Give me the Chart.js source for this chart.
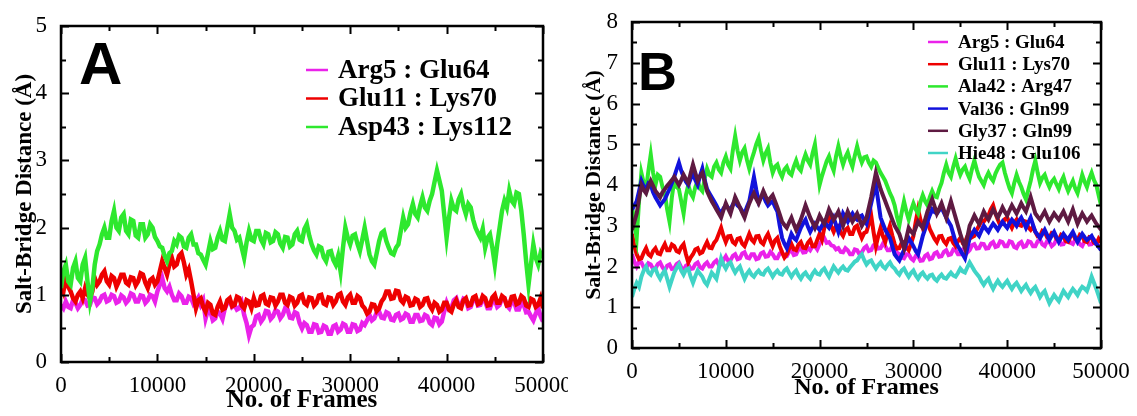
<!DOCTYPE html>
<html>
<head>
<meta charset="utf-8">
<script src="https://cdn.jsdelivr.net/npm/chart.js@4"></script>
<style>
  body { margin: 0; background: #fff; }
  #wrap { position: relative; width: 1137px; height: 416px; overflow: hidden; background: #fff; }
  #chartA { position: absolute; left: 0; top: 0; }
  #chartB { position: absolute; left: 568px; top: 0; }
</style>
</head>
<body>
<div id="wrap">
  <canvas id="chartA" width="568" height="416"></canvas>
  <canvas id="chartB" width="569" height="416"></canvas>
</div>
<script>
// frame numbers (every 250 frames, one row = 5000 frames)
const frames = [
  0, 250, 500, 750, 1000, 1250, 1500, 1750, 2000, 2250, 2500, 2750, 3000, 3250, 3500, 3750, 4000, 4250, 4500, 4750,
  5000, 5250, 5500, 5750, 6000, 6250, 6500, 6750, 7000, 7250, 7500, 7750, 8000, 8250, 8500, 8750, 9000, 9250, 9500, 9750,
  10000, 10250, 10500, 10750, 11000, 11250, 11500, 11750, 12000, 12250, 12500, 12750, 13000, 13250, 13500, 13750, 14000, 14250, 14500, 14750,
  15000, 15250, 15500, 15750, 16000, 16250, 16500, 16750, 17000, 17250, 17500, 17750, 18000, 18250, 18500, 18750, 19000, 19250, 19500, 19750,
  20000, 20250, 20500, 20750, 21000, 21250, 21500, 21750, 22000, 22250, 22500, 22750, 23000, 23250, 23500, 23750, 24000, 24250, 24500, 24750,
  25000, 25250, 25500, 25750, 26000, 26250, 26500, 26750, 27000, 27250, 27500, 27750, 28000, 28250, 28500, 28750, 29000, 29250, 29500, 29750,
  30000, 30250, 30500, 30750, 31000, 31250, 31500, 31750, 32000, 32250, 32500, 32750, 33000, 33250, 33500, 33750, 34000, 34250, 34500, 34750,
  35000, 35250, 35500, 35750, 36000, 36250, 36500, 36750, 37000, 37250, 37500, 37750, 38000, 38250, 38500, 38750, 39000, 39250, 39500, 39750,
  40000, 40250, 40500, 40750, 41000, 41250, 41500, 41750, 42000, 42250, 42500, 42750, 43000, 43250, 43500, 43750, 44000, 44250, 44500, 44750,
  45000, 45250, 45500, 45750, 46000, 46250, 46500, 46750, 47000, 47250, 47500, 47750, 48000, 48250, 48500, 48750, 49000, 49250, 49500, 49750,
  50000
];

// ---- panel A ----
const labelsA = ['Arg5 : Glu64', 'Glu11 : Lys70', 'Asp43 : Lys112'];

const arg5Glu64A = [
  0.85, 0.80, 0.90, 0.82, 0.80, 0.92, 0.88, 0.80, 0.85, 0.93, 0.92, 0.84, 0.85, 0.96, 0.95, 0.86, 0.90, 0.98, 1.00, 0.90,
  0.92, 1.00, 0.98, 0.88, 0.90, 0.99, 0.96, 0.88, 0.92, 1.02, 1.00, 0.90, 0.90, 0.99, 0.98, 0.88, 0.92, 1.00, 0.98, 0.90,
  1.05, 1.15, 1.25, 1.10, 1.05, 1.12, 1.00, 0.92, 0.92, 1.02, 0.98, 0.88, 0.88, 0.97, 0.95, 0.86, 0.90, 0.96, 0.85, 0.92,
  0.65, 0.78, 0.75, 0.62, 0.65, 0.75, 0.72, 0.64, 0.80, 0.88, 0.92, 0.82, 0.85, 0.78, 0.80, 0.88, 0.70, 0.58, 0.40, 0.52,
  0.55, 0.68, 0.70, 0.60, 0.65, 0.76, 0.75, 0.64, 0.68, 0.77, 0.75, 0.65, 0.70, 0.80, 0.78, 0.66, 0.65, 0.74, 0.72, 0.58,
  0.50, 0.58, 0.55, 0.45, 0.45, 0.56, 0.55, 0.44, 0.45, 0.54, 0.52, 0.42, 0.42, 0.53, 0.55, 0.45, 0.48, 0.57, 0.55, 0.45,
  0.45, 0.56, 0.55, 0.46, 0.48, 0.58, 0.55, 0.62, 0.70, 0.62, 0.65, 0.74, 0.75, 0.66, 0.65, 0.74, 0.72, 0.63, 0.62, 0.70,
  0.72, 0.63, 0.65, 0.72, 0.70, 0.60, 0.60, 0.70, 0.70, 0.61, 0.62, 0.70, 0.68, 0.58, 0.55, 0.66, 0.65, 0.56, 0.60, 0.75,
  0.88, 0.78, 0.80, 0.92, 0.95, 0.84, 0.85, 0.94, 0.92, 0.80, 0.82, 0.92, 0.95, 0.84, 0.85, 0.96, 0.90, 0.80, 0.80, 0.90,
  0.92, 0.82, 0.85, 0.95, 0.95, 0.84, 0.80, 0.90, 0.90, 0.78, 0.78, 0.88, 0.85, 0.74, 0.75, 0.68, 0.62, 0.72, 0.80, 0.68,
  0.60
];
const glu11Lys70A = [
  1.15, 1.05, 1.25, 1.12, 1.05, 0.95, 0.90, 1.00, 1.05, 0.95, 1.10, 1.00, 0.95, 1.05, 1.25, 1.15, 1.20, 1.30, 1.35, 1.20,
  1.15, 1.28, 1.25, 1.12, 1.20, 1.30, 1.30, 1.18, 1.15, 1.26, 1.25, 1.14, 1.20, 1.32, 1.30, 1.18, 1.10, 1.22, 1.25, 1.15,
  1.20, 1.35, 1.50, 1.40, 1.30, 1.45, 1.55, 1.42, 1.45, 1.58, 1.62, 1.48, 1.30, 1.38, 1.20, 1.00, 0.80, 0.92, 0.95, 0.82,
  0.75, 0.88, 0.85, 0.72, 0.70, 0.82, 0.90, 0.78, 0.80, 0.92, 0.95, 0.83, 0.85, 0.97, 0.95, 0.84, 0.80, 0.92, 0.90, 0.80,
  0.95, 0.84, 0.85, 0.98, 1.00, 0.87, 0.85, 0.96, 0.95, 0.84, 0.90, 1.00, 1.00, 0.88, 0.85, 0.97, 0.95, 0.84, 0.88, 0.98,
  1.00, 0.88, 0.85, 0.96, 0.95, 0.84, 0.88, 0.99, 1.00, 0.87, 0.85, 0.96, 0.95, 0.85, 0.90, 1.00, 1.02, 0.90, 0.85, 0.96,
  1.00, 0.88, 0.88, 0.98, 0.95, 0.84, 0.80, 0.72, 0.75, 0.86, 0.85, 0.76, 0.80, 0.90, 0.95, 1.05, 1.05, 0.94, 0.95, 1.06,
  1.05, 0.92, 0.88, 0.97, 0.95, 0.84, 0.85, 0.94, 0.92, 0.82, 0.85, 0.94, 0.95, 0.84, 0.78, 0.88, 0.85, 0.75, 0.78, 0.88,
  0.88, 0.78, 0.75, 0.86, 0.92, 0.82, 0.80, 0.92, 0.95, 0.84, 0.85, 0.96, 0.98, 0.86, 0.88, 0.98, 0.95, 0.84, 0.85, 0.96,
  1.00, 0.88, 0.88, 0.98, 0.95, 0.84, 0.85, 0.97, 0.98, 0.86, 0.88, 0.98, 0.95, 0.84, 0.82, 0.94, 0.92, 0.82, 0.85, 0.95,
  0.80
];
const asp43Lys112A = [
  1.10, 1.35, 1.45, 1.20, 1.15, 1.40, 1.50, 1.25, 1.20, 1.45, 1.55, 1.20, 0.90, 1.10, 1.45, 1.65, 1.75, 1.90, 2.00, 1.85,
  1.85, 2.10, 2.25, 2.00, 1.95, 2.15, 2.20, 1.95, 1.90, 2.12, 2.10, 1.88, 1.85, 2.05, 2.05, 1.85, 1.90, 2.05, 2.00, 1.86,
  1.80, 1.72, 1.70, 1.58, 1.50, 1.62, 1.65, 1.80, 1.75, 1.88, 1.85, 1.72, 1.70, 1.85, 1.90, 1.75, 1.75, 1.62, 1.60, 1.52,
  1.45, 1.62, 1.80, 1.68, 1.70, 1.85, 1.95, 1.82, 1.80, 2.00, 2.20, 2.00, 1.95, 1.82, 1.85, 1.70, 1.55, 1.78, 1.95, 1.82,
  1.80, 1.95, 1.95, 1.82, 1.75, 1.92, 1.90, 1.78, 1.80, 1.93, 1.90, 1.76, 1.70, 1.86, 1.85, 1.72, 1.75, 1.90, 1.95, 1.82,
  1.80, 1.98, 2.05, 1.88, 1.75, 1.66, 1.60, 1.72, 1.70, 1.56, 1.50, 1.64, 1.65, 1.52, 1.45, 1.58, 1.35, 1.70, 2.00, 1.85,
  1.75, 1.88, 1.90, 1.76, 1.65, 1.82, 2.00, 1.80, 1.60, 1.50, 1.45, 1.62, 1.80, 1.92, 1.95, 1.80, 1.70, 1.62, 1.60, 1.70,
  1.75, 1.95, 2.15, 2.00, 2.05, 2.22, 2.35, 2.20, 2.15, 2.32, 2.45, 2.30, 2.25, 2.40, 2.50, 2.68, 2.85, 2.70, 2.55, 2.20,
  1.85, 2.15, 2.40, 2.28, 2.25, 2.42, 2.50, 2.32, 2.20, 2.35, 2.30, 2.12, 2.00, 1.92, 1.85, 1.98, 1.70, 1.85, 1.90, 1.70,
  1.45, 1.75, 2.00, 2.25, 2.40, 2.30, 2.55, 2.40, 2.35, 2.52, 2.50, 2.25, 1.90, 1.50, 1.15, 1.45, 1.75, 1.55, 1.45, 1.62,
  1.55
];

// ---- panel B ----
const labelsB = ['Arg5 : Glu64', 'Glu11 : Lys70', 'Ala42 : Arg47', 'Val36 : Gln99', 'Gly37 : Gln99', 'Hie48 : Glu106'];

const arg5Glu64B = [
  2.30, 2.12, 2.00, 2.12, 2.10, 1.98, 1.95, 2.08, 2.05, 1.94, 1.95, 2.06, 2.10, 1.98, 1.90, 2.02, 2.05, 1.94, 1.95, 2.06,
  2.10, 1.98, 1.90, 2.02, 2.05, 1.94, 1.95, 2.06, 2.10, 1.98, 1.95, 2.05, 2.10, 2.00, 2.00, 2.10, 2.15, 2.04, 2.05, 2.16,
  2.25, 2.14, 2.15, 2.26, 2.30, 2.18, 2.20, 2.32, 2.35, 2.22, 2.20, 2.30, 2.30, 2.18, 2.20, 2.32, 2.35, 2.24, 2.25, 2.36,
  2.30, 2.20, 2.20, 2.32, 2.35, 2.24, 2.25, 2.36, 2.40, 2.28, 2.30, 2.42, 2.45, 2.34, 2.35, 2.46, 2.40, 2.50, 2.50, 2.42,
  2.55, 2.64, 2.70, 2.58, 2.60, 2.52, 2.50, 2.42, 2.45, 2.36, 2.35, 2.45, 2.40, 2.30, 2.30, 2.42, 2.40, 2.30, 2.35, 2.45,
  2.50, 2.38, 2.40, 2.52, 2.55, 2.44, 2.45, 2.56, 2.50, 2.40, 2.40, 2.50, 2.45, 2.34, 2.30, 2.22, 2.20, 2.30, 2.30, 2.20,
  2.15, 2.26, 2.25, 2.14, 2.15, 2.26, 2.30, 2.18, 2.20, 2.32, 2.35, 2.24, 2.25, 2.36, 2.40, 2.28, 2.30, 2.42, 2.40, 2.30,
  2.30, 2.42, 2.45, 2.34, 2.40, 2.52, 2.55, 2.44, 2.45, 2.56, 2.55, 2.44, 2.45, 2.56, 2.60, 2.48, 2.50, 2.62, 2.60, 2.50,
  2.50, 2.62, 2.60, 2.48, 2.45, 2.56, 2.60, 2.48, 2.50, 2.62, 2.60, 2.50, 2.50, 2.62, 2.65, 2.54, 2.50, 2.62, 2.60, 2.50,
  2.55, 2.66, 2.65, 2.54, 2.55, 2.66, 2.70, 2.58, 2.55, 2.66, 2.65, 2.54, 2.50, 2.62, 2.65, 2.54, 2.55, 2.66, 2.60, 2.50,
  2.50
];
const glu11Lys70B = [
  2.80, 2.50, 2.30, 2.18, 2.20, 2.34, 2.45, 2.30, 2.25, 2.38, 2.45, 2.32, 2.30, 2.44, 2.55, 2.40, 2.40, 2.54, 2.50, 2.38,
  2.35, 2.48, 2.55, 2.30, 2.10, 2.22, 2.30, 2.42, 2.45, 2.32, 2.35, 2.48, 2.60, 2.46, 2.45, 2.58, 2.65, 2.80, 2.95, 2.75,
  2.60, 2.74, 2.75, 2.60, 2.55, 2.68, 2.70, 2.56, 2.50, 2.65, 2.80, 2.66, 2.60, 2.74, 2.75, 2.60, 2.55, 2.70, 2.80, 2.64,
  2.50, 2.64, 2.70, 2.50, 2.35, 2.22, 2.30, 2.44, 2.55, 2.42, 2.40, 2.54, 2.60, 2.46, 2.45, 2.58, 2.65, 2.50, 2.50, 2.65,
  2.80, 2.66, 2.95, 3.10, 3.20, 2.98, 2.85, 3.00, 3.00, 2.84, 2.75, 2.90, 2.95, 2.80, 2.80, 2.96, 3.00, 2.84, 2.70, 2.82,
  2.85, 3.05, 3.25, 2.85, 2.50, 2.75, 2.95, 2.74, 2.60, 2.82, 3.00, 2.76, 2.55, 2.44, 2.45, 2.58, 2.60, 2.46, 2.40, 2.56,
  2.75, 3.10, 3.40, 3.15, 2.95, 3.08, 3.10, 2.92, 2.80, 2.68, 2.60, 2.74, 2.75, 2.62, 2.55, 2.68, 2.70, 2.58, 2.50, 2.62,
  2.70, 2.58, 2.60, 2.74, 2.85, 2.72, 2.75, 2.90, 3.00, 3.12, 3.10, 3.18, 3.25, 3.40, 3.50, 3.30, 3.15, 3.02, 3.05, 3.16,
  3.20, 3.06, 2.95, 3.08, 3.15, 3.02, 3.00, 3.12, 3.10, 2.96, 2.90, 2.98, 2.85, 2.74, 2.75, 2.88, 2.85, 2.72, 2.70, 2.82,
  2.80, 2.68, 2.65, 2.78, 2.75, 2.62, 2.60, 2.74, 2.80, 2.68, 2.65, 2.78, 2.75, 2.62, 2.60, 2.72, 2.70, 2.58, 2.55, 2.68,
  2.60
];
const ala42Arg47B = [
  3.50, 3.05, 2.70, 3.60, 4.30, 4.05, 3.90, 4.35, 4.75, 4.30, 4.00, 4.25, 4.20, 3.95, 3.80, 3.40, 3.10, 3.70, 4.10, 3.95,
  3.90, 3.60, 3.30, 3.75, 4.00, 3.80, 3.70, 3.95, 4.10, 3.92, 3.85, 4.15, 4.40, 4.25, 4.20, 4.45, 4.55, 4.38, 4.30, 4.55,
  4.70, 4.50, 4.40, 4.85, 5.20, 4.85, 4.60, 4.80, 4.90, 4.62, 4.40, 4.62, 4.80, 5.00, 5.15, 4.85, 4.60, 4.78, 4.90, 4.55,
  4.30, 4.45, 4.50, 4.32, 4.20, 4.38, 4.45, 4.30, 4.25, 4.45, 4.60, 4.42, 4.35, 4.58, 4.75, 4.60, 4.50, 4.78, 5.00, 4.50,
  4.00, 4.22, 4.40, 4.58, 4.70, 4.50, 4.35, 4.70, 4.95, 4.70, 4.50, 4.68, 4.80, 4.60, 4.45, 4.72, 4.95, 4.72, 4.55, 4.68,
  4.70, 4.55, 4.45, 4.60, 4.55, 4.42, 4.30, 4.20, 4.10, 3.95, 3.80, 3.68, 3.50, 3.22, 3.00, 3.32, 3.60, 3.35, 3.15, 3.38,
  3.55, 3.40, 3.30, 3.58, 3.75, 3.60, 3.50, 3.70, 3.85, 3.72, 3.70, 3.90, 4.05, 4.30, 4.50, 4.30, 4.20, 4.45, 4.65, 4.42,
  4.25, 4.38, 4.45, 4.28, 4.15, 4.40, 4.60, 4.38, 4.20, 4.10, 4.00, 4.18, 4.30, 4.18, 4.10, 4.28, 4.40, 4.50, 4.55, 4.30,
  4.10, 3.92, 3.80, 4.05, 4.25, 4.08, 3.95, 3.78, 3.65, 3.88, 4.10, 4.38, 4.60, 4.30, 4.05, 4.18, 4.25, 4.08, 3.95, 4.08,
  4.15, 4.02, 3.90, 4.08, 4.20, 4.00, 3.85, 3.98, 4.10, 3.92, 3.80, 4.02, 4.25, 4.08, 3.95, 4.15, 4.30, 4.12, 4.00, 3.75,
  3.50
];
const val36Gln99B = [
  3.40, 3.50, 3.60, 3.85, 4.10, 3.96, 3.90, 4.04, 4.00, 3.82, 3.70, 3.60, 3.50, 3.58, 3.65, 3.78, 3.90, 4.05, 4.20, 4.38,
  4.55, 4.35, 4.20, 4.08, 4.00, 4.15, 4.30, 4.12, 4.00, 4.22, 4.40, 4.12, 3.90, 3.80, 3.70, 3.60, 3.50, 3.38, 3.30, 3.42,
  3.50, 3.44, 3.40, 3.52, 3.60, 3.50, 3.45, 3.36, 3.30, 3.46, 3.60, 3.90, 4.20, 3.88, 3.60, 3.70, 3.75, 3.60, 3.50, 3.56,
  3.60, 3.46, 3.35, 3.00, 2.70, 2.56, 2.45, 2.62, 2.80, 2.70, 2.65, 2.80, 2.95, 3.06, 3.15, 2.98, 2.85, 2.96, 3.05, 2.96,
  2.90, 3.00, 3.10, 3.02, 2.95, 3.08, 3.20, 3.02, 2.85, 3.06, 3.30, 3.20, 3.10, 3.22, 3.30, 3.20, 3.15, 3.22, 3.25, 3.14,
  3.05, 3.30, 3.55, 3.80, 4.00, 3.60, 3.20, 3.05, 2.90, 2.80, 2.70, 2.50, 2.30, 2.22, 2.15, 2.28, 2.40, 2.56, 2.70, 2.60,
  2.50, 2.38, 2.30, 2.52, 2.75, 2.92, 3.10, 3.26, 3.40, 3.34, 3.30, 3.38, 3.45, 3.32, 3.20, 3.10, 3.00, 2.80, 2.60, 2.50,
  2.40, 2.30, 2.20, 2.45, 2.70, 2.80, 2.90, 2.82, 2.75, 2.88, 3.00, 2.92, 2.85, 2.96, 3.05, 2.98, 2.90, 3.00, 3.10, 3.02,
  2.95, 3.06, 3.15, 3.08, 3.00, 3.12, 3.20, 3.08, 2.95, 3.08, 3.20, 3.02, 2.85, 2.78, 2.70, 2.80, 2.90, 2.78, 2.65, 2.76,
  2.85, 2.72, 2.60, 2.70, 2.80, 2.72, 2.65, 2.76, 2.85, 2.72, 2.60, 2.70, 2.80, 2.72, 2.65, 2.70, 2.75, 2.64, 2.55, 2.48,
  2.40
];
const gly37Gln99B = [
  2.90, 3.10, 3.30, 3.65, 4.00, 3.88, 3.80, 3.96, 4.10, 3.98, 3.85, 3.78, 3.70, 3.82, 3.90, 3.98, 4.05, 4.12, 4.20, 4.10,
  4.00, 4.12, 4.25, 4.14, 4.05, 4.28, 4.50, 4.30, 4.10, 4.22, 4.30, 4.08, 3.85, 3.72, 3.60, 3.50, 3.40, 3.30, 3.20, 3.38,
  3.55, 3.42, 3.30, 3.50, 3.70, 3.58, 3.45, 3.32, 3.20, 3.38, 3.55, 3.68, 3.80, 3.66, 3.55, 3.70, 3.85, 3.72, 3.60, 3.68,
  3.75, 3.60, 3.45, 3.28, 3.10, 3.02, 2.95, 3.08, 3.20, 3.04, 2.90, 3.02, 3.15, 3.32, 3.50, 3.35, 3.20, 3.08, 2.95, 3.10,
  3.25, 3.14, 3.05, 3.22, 3.40, 3.28, 3.15, 3.24, 3.35, 3.18, 3.00, 3.18, 3.35, 3.22, 3.10, 3.20, 3.30, 3.16, 3.00, 3.10,
  3.20, 3.45, 3.70, 4.00, 4.30, 4.10, 3.90, 3.75, 3.60, 3.45, 3.30, 3.15, 3.00, 2.90, 2.80, 2.62, 2.45, 2.70, 2.95, 2.86,
  2.80, 2.95, 3.10, 3.02, 2.95, 3.15, 3.35, 3.50, 3.65, 3.48, 3.30, 3.42, 3.55, 3.38, 3.20, 3.40, 3.60, 3.40, 3.20, 3.00,
  2.80, 2.62, 2.45, 2.72, 3.00, 3.12, 3.25, 3.14, 3.05, 3.20, 3.35, 3.24, 3.15, 3.28, 3.40, 3.30, 3.20, 3.32, 3.45, 3.34,
  3.25, 3.38, 3.50, 3.40, 3.30, 3.42, 3.55, 3.44, 3.35, 3.52, 3.70, 3.50, 3.30, 3.22, 3.15, 3.25, 3.35, 3.22, 3.10, 3.20,
  3.30, 3.22, 3.15, 3.25, 3.35, 3.22, 3.10, 3.25, 3.40, 3.22, 3.05, 3.18, 3.30, 3.20, 3.10, 3.18, 3.25, 3.15, 3.05, 2.98,
  2.90
];
const hie48Glu106B = [
  1.25, 1.45, 1.60, 1.50, 1.75, 1.90, 2.00, 1.85, 1.80, 1.92, 1.95, 1.80, 1.70, 1.82, 1.90, 1.70, 1.50, 1.68, 1.85, 1.96,
  2.05, 1.90, 1.80, 1.92, 1.95, 1.75, 1.60, 1.76, 1.90, 1.82, 1.75, 1.62, 1.55, 1.70, 1.85, 1.78, 1.70, 1.95, 2.20, 2.05,
  1.95, 2.06, 2.10, 1.96, 1.85, 1.94, 2.00, 1.84, 1.70, 1.82, 1.90, 1.80, 1.75, 1.84, 1.90, 1.82, 1.80, 1.90, 1.95, 1.85,
  1.75, 1.84, 1.90, 1.82, 1.80, 1.90, 1.95, 1.84, 1.75, 1.84, 1.90, 1.78, 1.70, 1.80, 1.85, 1.76, 1.70, 1.82, 1.90, 1.82,
  1.80, 1.90, 1.95, 1.84, 1.75, 1.88, 2.00, 1.92, 1.85, 1.94, 2.00, 1.92, 1.90, 1.98, 2.05, 2.12, 2.15, 2.24, 2.30, 2.16,
  2.05, 2.12, 2.15, 2.04, 1.95, 2.04, 2.10, 2.00, 1.95, 2.04, 2.10, 2.00, 1.95, 1.86, 1.80, 1.90, 1.95, 1.84, 1.75, 1.84,
  1.90, 1.78, 1.70, 1.80, 1.85, 1.76, 1.70, 1.78, 1.80, 1.70, 1.65, 1.74, 1.80, 1.72, 1.70, 1.78, 1.85, 1.78, 1.75, 1.84,
  1.95, 1.88, 1.85, 1.98, 2.10, 2.00, 1.90, 1.82, 1.75, 1.64, 1.55, 1.64, 1.70, 1.56, 1.45, 1.56, 1.65, 1.56, 1.50, 1.58,
  1.65, 1.54, 1.45, 1.54, 1.60, 1.50, 1.40, 1.48, 1.55, 1.44, 1.35, 1.44, 1.50, 1.38, 1.25, 1.34, 1.40, 1.24, 1.10, 1.20,
  1.30, 1.22, 1.15, 1.28, 1.40, 1.32, 1.25, 1.36, 1.45, 1.38, 1.30, 1.42, 1.50, 1.46, 1.40, 1.56, 1.75, 1.60, 1.45, 1.28,
  1.10
];

const MAGENTA = '#ea22ea';
const RED = '#ee0000';
const GREEN = '#2ee82e';
const BLUE = '#1212dc';
const MAROON = '#5e1a42';
const CYAN = '#40d4c6';

const serif = "'Liberation Serif', 'DejaVu Serif', serif";
Chart.defaults.font.family = serif;
Chart.defaults.color = '#000';

// 枠線と内向きの目盛りを描く
const frameTicks = {
  id: 'frameTicks',
  afterDatasetsDraw(chart, args, opts) {
    const { ctx, chartArea: a, scales: { x, y } } = chart;
    ctx.save();
    ctx.strokeStyle = '#000';
    ctx.lineWidth = 2;
    ctx.beginPath();
    for (let v = 0; v <= opts.xMax + 1; v += opts.xStep / 2) {
      const px = Math.round(x.getPixelForValue(v)) + 0.5;
      const len = (v % opts.xStep === 0) ? 8 : 5;
      ctx.moveTo(px, a.bottom); ctx.lineTo(px, a.bottom - len);
      ctx.moveTo(px, a.top); ctx.lineTo(px, a.top + len);
    }
    for (let v = 0; v <= opts.yMax + 0.001; v += opts.yStep / 2) {
      const py = Math.round(y.getPixelForValue(v)) + 0.5;
      const len = (Math.abs(v % opts.yStep) < 0.001) ? 8 : 5;
      ctx.moveTo(a.left, py); ctx.lineTo(a.left + len, py);
      ctx.moveTo(a.right, py); ctx.lineTo(a.right - len, py);
    }
    ctx.stroke();
    ctx.lineWidth = 2.5;
    ctx.strokeRect(a.left, a.top, a.right - a.left, a.bottom - a.top);
    ctx.restore();
  },
  afterDraw(chart, args, opts) {
    const { ctx } = chart;
    ctx.save();
    // パネル文字
    ctx.fillStyle = '#000';
    ctx.font = 'bold ' + opts.letterSize + "px 'Liberation Sans', Arial, sans-serif";
    ctx.textBaseline = 'alphabetic';
    ctx.fillText(opts.letter, opts.letterX, opts.letterY);
    // 凡例
    const ds = chart.data.datasets;
    ctx.font = 'bold ' + opts.legendSize + 'px ' + serif;
    ctx.textBaseline = 'middle';
    for (let i = 0; i < ds.length; i++) {
      const yy = opts.legendY + i * opts.legendGap;
      ctx.strokeStyle = ds[i].borderColor;
      ctx.lineWidth = 2.5;
      ctx.beginPath();
      ctx.moveTo(opts.legendX, yy);
      ctx.lineTo(opts.legendX + opts.sampleLen, yy);
      ctx.stroke();
      ctx.fillStyle = '#000';
      ctx.fillText(ds[i].label, opts.legendX + opts.sampleLen + 10, yy + 1);
    }
    ctx.restore();
  }
};

function makeDatasets(labels, seriesList, colors, width) {
  const n = seriesList.length;
  return seriesList.map((vals, i) => ({
    label: labels[i],
    data: frames.map((f, j) => ({ x: f, y: vals[j] })),
    borderColor: colors[i],
    backgroundColor: colors[i],
    borderWidth: width,
    pointRadius: 0,
    tension: 0,
    order: n - i,  // 後のデータセットを上に描く
  }));
}

function makeConfig(datasets, cfg) {
  return {
    type: 'line',
    data: { datasets },
    plugins: [frameTicks],
    options: {
      responsive: false,
      animation: false,
      events: [],
      layout: { padding: { left: 0, top: cfg.top, right: cfg.right, bottom: 0 } },
      plugins: {
        legend: { display: false },
        tooltip: { enabled: false },
        frameTicks: cfg.deco,
      },
      scales: {
        x: {
          type: 'linear',
          min: 0, max: 50000,
          grid: { display: false },
          border: { display: false },
          ticks: {
            stepSize: 10000, autoSkip: false, maxRotation: 0,
            padding: 2, color: '#000',
            font: { family: serif, size: 23 },
            callback: (v) => String(v),
          },
          title: {
            display: true, text: 'No. of Frames', color: '#000',
            font: { family: serif, size: cfg.xTitleSize, weight: 'bold' },
            padding: { top: 0, bottom: cfg.xTitlePad },
          },
          afterFit: (s) => { s.height = cfg.xHeight; s.paddingLeft = 0; s.paddingRight = 0; },
        },
        y: {
          min: 0, max: cfg.yMax,
          grid: { display: false },
          border: { display: false },
          ticks: {
            stepSize: 1, autoSkip: false,
            padding: 6, color: '#000',
            font: { family: serif, size: 23 },
            callback: (v) => String(v),
          },
          title: {
            display: true, text: 'Salt-Bridge Distance (Å)', color: '#000',
            font: { family: serif, size: cfg.yTitleSize, weight: 'bold' },
            padding: { top: cfg.yTitlePad, bottom: 0 },
          },
          afterFit: (s) => { s.width = cfg.yWidth; s.paddingTop = 0; s.paddingBottom = 0; },
        },
      },
    },
  };
}

new Chart(document.getElementById('chartA'), makeConfig(
  makeDatasets(labelsA, [arg5Glu64A, glu11Lys70A, asp43Lys112A], [MAGENTA, RED, GREEN], 4.5),
  {
    top: 26, right: 25, xHeight: 54, yWidth: 61, yMax: 5,
    xTitleSize: 25, xTitlePad: 0, yTitleSize: 23, yTitlePad: 11,
    deco: {
      xMax: 50000, xStep: 10000, yMax: 5, yStep: 1,
      letter: 'A', letterSize: 60, letterX: 79, letterY: 84,
      legendX: 306, legendY: 70, legendGap: 28.5, sampleLen: 22, legendSize: 27,
    },
  }
));

new Chart(document.getElementById('chartB'), makeConfig(
  makeDatasets(labelsB, [arg5Glu64B, glu11Lys70B, ala42Arg47B, val36Gln99B, gly37Gln99B, hie48Glu106B],
    [MAGENTA, RED, GREEN, BLUE, MAROON, CYAN], 4),
  {
    top: 22, right: 36, xHeight: 68, yWidth: 64, yMax: 8,
    xTitleSize: 24, xTitlePad: 14, yTitleSize: 22, yTitlePad: 13,
    deco: {
      xMax: 50000, xStep: 10000, yMax: 8, yStep: 1,
      letter: 'B', letterSize: 54, letterX: 70, letterY: 90,
      legendX: 360, legendY: 42, legendGap: 22.2, sampleLen: 20, legendSize: 19,
    },
  }
));
</script>
</body>
</html>
